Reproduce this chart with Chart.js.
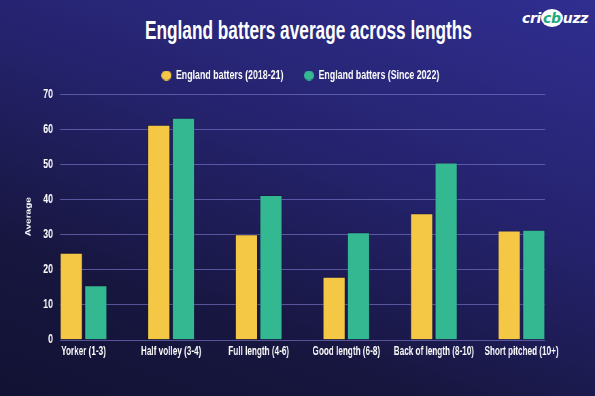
<!DOCTYPE html>
<html>
<head>
<meta charset="utf-8">
<script src="https://cdn.jsdelivr.net/npm/chart.js@4.4.1/dist/chart.umd.min.js"></script>
<style>
  html, body { margin: 0; padding: 0; }
  body {
    width: 595px; height: 396px; overflow: hidden; position: relative;
    background: linear-gradient(200deg, #302e90 0%, #25236e 40%, #17163f 75%, #121234 100%);
    font-family: 'Liberation Sans', Arial, sans-serif;
  }
  /* canvas is drawn wide and squeezed, so the text looks condensed like the original */
  #wrap { position: absolute; left: 0; top: 0; width: 875px; height: 396px; transform: scaleX(0.68); transform-origin: 0 0; }
  #title {
    position: absolute; left: 145px; top: 14px; height: 32px;
    color: #fff; font-weight: bold; font-size: 26px; line-height: 32px;
    white-space: nowrap; transform-origin: left center;
  }
  #logo {
    position: absolute; left: 522px; top: 8px; height: 20px;
    color: #fff; font-family: 'DejaVu Sans', sans-serif; font-weight: bold; font-style: italic;
    font-size: 14px; line-height: 20px; white-space: nowrap; letter-spacing: -0.3px;
  }
  #logo .cb {
    display: inline-block; background: #fff; color: #1fa97e; border-radius: 50%;
    padding: 0 2px; line-height: 18px;
  }
</style>
</head>
<body>
<div id="title">England batters average across lengths</div>
<div id="logo">cri<span class="cb">cb</span>uzz</div>
<div id="wrap"><canvas id="chart" width="875" height="396"></canvas></div>
<script>
const categories = ['Yorker (1-3)', 'Half volley (3-4)', 'Full length (4-6)', 'Good length (6-8)', 'Back of length (8-10)', 'Short pitched (10+)'];
const before2022 = [24.7, 61.2, 30.0, 17.9, 36.0, 31.1];
const since2022 = [15.5, 63.2, 41.2, 30.6, 50.5, 31.3];
const seriesNames = ['England batters (2018-21)', 'England batters (Since 2022)'];
const seriesColors = ['#f4c744', '#34b892'];
const yTicks = [0, 10, 20, 30, 40, 50, 60, 70];

const FONT = "'Liberation Sans', Arial, sans-serif";

// fit the title to the width of the original
const t = document.getElementById('title');
t.style.transform = 'scaleX(' + (327 / t.scrollWidth) + ')';

// legend dots: drawn as wide ellipses so they come out round after the squeeze
function dot(color) {
  const c = document.createElement('canvas');
  c.width = 15; c.height = 10;
  const g = c.getContext('2d');
  g.fillStyle = color;
  g.beginPath();
  g.ellipse(7.5, 5, 7.5, 5, 0, 0, Math.PI * 2);
  g.fill();
  return c;
}
const dots = seriesColors.map(dot);

// grid lines only across the bars, like the original
const gridPlugin = {
  id: 'barGrid',
  afterInit(chart) {
    const lg = chart.legend;
    const fit = lg.fit.bind(lg);
    lg.fit = function () { fit(); this.height += 2; };
  },
  afterLayout(chart) {
    // legend sits a little right of centre in the original
    chart.legend.left += 11;
    chart.legend.right += 11;
  },
  beforeDatasetsDraw(chart) {
    const ctx = chart.ctx;
    const y = chart.scales.y;
    const m0 = chart.getDatasetMeta(0).data;
    const m1 = chart.getDatasetMeta(1).data;
    const x0 = m0[0].x - m0[0].width / 2;
    const last = m1[m1.length - 1];
    const x1 = last.x + last.width / 2;
    ctx.save();
    ctx.strokeStyle = 'rgba(112,110,190,0.72)';
    ctx.lineWidth = 1;
    yTicks.forEach(v => {
      const py = Math.round(y.getPixelForValue(v)) + 0.5;
      ctx.beginPath();
      ctx.moveTo(x0, py);
      ctx.lineTo(x1, py);
      ctx.stroke();
    });
    ctx.restore();
  }
};

new Chart(document.getElementById('chart'), {
  type: 'bar',
  data: {
    labels: categories,
    datasets: [
      {
        label: seriesNames[0],
        data: before2022,
        backgroundColor: seriesColors[0],
        borderColor: 'rgba(20,20,50,0.5)',
        borderWidth: 1,
        barPercentage: 0.92,
        categoryPercentage: 0.56
      },
      {
        label: seriesNames[1],
        data: since2022,
        backgroundColor: seriesColors[1],
        borderColor: 'rgba(20,20,50,0.5)',
        borderWidth: 1,
        barPercentage: 0.92,
        categoryPercentage: 0.56
      }
    ]
  },
  options: {
    responsive: false,
    animation: false,
    layout: { padding: { top: 39, left: 30, right: 43.7, bottom: 0 } },
    plugins: {
      legend: {
        position: 'top',
        labels: {
          color: '#ffffff',
          usePointStyle: true,
          pointStyleWidth: 15,
          boxHeight: 10,
          padding: 30,
          font: { family: FONT, size: 13, weight: 'bold' },
          generateLabels(chart) {
            const items = Chart.defaults.plugins.legend.labels.generateLabels(chart);
            items.forEach((it, i) => { it.pointStyle = dots[i]; });
            return items;
          }
        }
      },
      title: { display: false },
      tooltip: { enabled: false }
    },
    scales: {
      x: {
        grid: { display: false, drawTicks: false, tickLength: 0 },
        border: { display: false },
        ticks: {
          color: '#ffffff',
          padding: 5,
          maxRotation: 0,
          autoSkip: false,
          font: { family: FONT, size: 12, weight: 'bold' }
        },
        afterFit(scale) { scale.height = 56.5; }
      },
      y: {
        min: 0,
        max: 70,
        afterBuildTicks(scale) { scale.ticks = yTicks.map(v => ({ value: v })); },
        grid: { display: false, drawTicks: false, tickLength: 0 },
        border: { display: false },
        ticks: {
          color: '#ffffff',
          mirror: true,
          crossAlign: 'far',
          padding: 5,
          font: { family: FONT, size: 13, weight: 'bold' }
        },
        title: {
          display: true,
          text: 'Average',
          color: '#ffffff',
          padding: { top: 6, bottom: 0 },
          font: { family: FONT, size: 10, weight: 'bold' }
        },
        afterFit(scale) { scale.width = 28.4; }
      }
    }
  },
  plugins: [gridPlugin]
});
</script>
</body>
</html>
